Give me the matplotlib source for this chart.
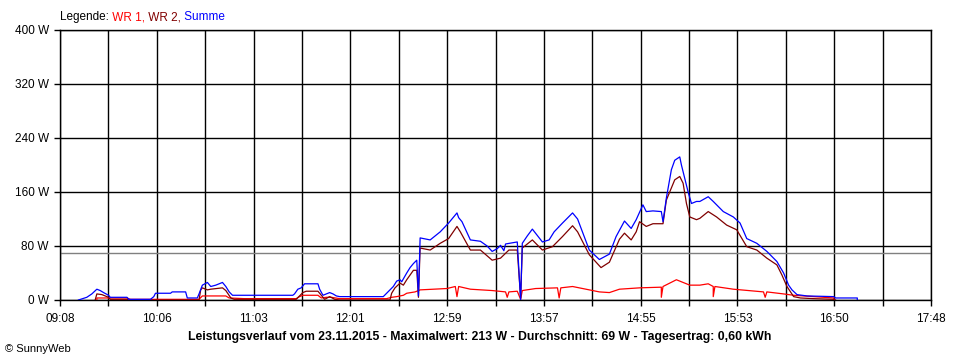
import numpy as np
import matplotlib
matplotlib.use('Agg')
import matplotlib.pyplot as plt

plt.rcParams['font.family'] = ['Liberation Sans', 'DejaVu Sans']

# Zeitachse (Minuten) und Beschriftung
x_start, x_end = '09:08', '17:48'
x_labels = ['09:08', '10:06', '11:03', '12:01', '12:59', '13:57', '14:55', '15:53', '16:50', '17:48']
y_ticks = [0, 80, 160, 240, 320, 400]
durchschnitt = 69

# WR 1 (rot)
wr1_t = ['09:30', '09:30', '09:48', '09:50', '10:31', '10:33', '10:47', '10:49', '10:58', '11:29', '11:31', '11:33',
         '11:42', '11:44', '11:47', '11:50', '11:55', '12:23', '12:26', '12:29', '12:33', '12:35', '12:40', '12:43',
         '12:59', '13:04', '13:05', '13:06', '13:13', '13:26', '13:34', '13:35', '13:36', '13:41', '13:43', '13:44',
         '13:52', '14:05', '14:06', '14:07', '14:14', '14:24', '14:30', '14:36', '14:42', '14:54', '15:07', '15:07',
         '15:08', '15:12', '15:16', '15:20', '15:24', '15:30', '15:35', '15:38', '15:38', '15:39', '15:50', '16:08',
         '16:09', '16:10', '16:20', '16:26', '16:38', '16:50', '16:50']
wr1_w = [0, 3, 3, 1, 1, 6, 6, 3, 2, 2, 5, 7,
         7, 3, 4, 4, 2, 2, 4, 5, 7, 10, 12, 15,
         17, 20, 5, 20, 16, 14, 12, 4, 12, 13, 1, 14,
         17, 18, 3, 18, 20, 15, 12, 11, 16, 18, 19, 4,
         20, 25, 30, 26, 22, 22, 24, 20, 5, 20, 16, 12,
         4, 12, 9, 7, 5, 3, 0]

# WR 2 (dunkelrot)
wr2_t = ['09:29', '09:30', '09:33', '09:35', '09:37', '09:38', '09:48', '09:49', '10:31', '10:32', '10:33', '10:36',
         '10:38', '10:45', '10:47', '10:50', '10:52', '11:29', '11:31', '11:33', '11:35', '11:42', '11:44', '11:46',
         '11:49', '11:52', '11:55', '12:25', '12:26', '12:28', '12:31', '12:33', '12:35', '12:39', '12:41', '12:42',
         '12:43', '12:49', '12:55', '13:00', '13:05', '13:07', '13:13', '13:19', '13:26', '13:31', '13:36', '13:41',
         '13:43', '13:44', '13:50', '13:56', '14:02', '14:08', '14:14', '14:17', '14:24', '14:31', '14:36', '14:42',
         '14:45', '14:49', '14:52', '14:54', '14:58', '15:02', '15:08', '15:10', '15:15', '15:18', '15:20', '15:22',
         '15:24', '15:28', '15:30', '15:35', '15:40', '15:46', '15:52', '15:58', '16:04', '16:10', '16:16', '16:19',
         '16:22', '16:26', '16:30', '16:38', '16:50', '16:51']
wr2_w = [0, 9, 8, 6, 4, 1, 1, 0, 0, 15, 18, 15,
         16, 18, 14, 3, 1, 1, 6, 11, 13, 13, 7, 1,
         5, 1, 0, 0, 10, 18, 25, 22, 30, 44, 44, 4,
         77, 74, 84, 91, 109, 101, 74, 74, 59, 62, 74, 74,
         3, 77, 89, 74, 79, 94, 110, 101, 67, 48, 56, 90,
         99, 89, 101, 116, 109, 113, 113, 148, 178, 183, 173, 143,
         123, 119, 121, 131, 123, 111, 104, 79, 74, 62, 52, 37,
         20, 5, 3, 2, 1, 0]

# Summe (blau)
sum_t = ['09:19', '09:24', '09:27', '09:30', '09:32', '09:34', '09:37', '09:38', '09:48', '09:49', '10:02', '10:04',
         '10:05', '10:14', '10:15', '10:23', '10:24', '10:30', '10:31', '10:33', '10:36', '10:38', '10:41', '10:45',
         '10:47', '10:49', '10:51', '11:27', '11:28', '11:30', '11:32', '11:34', '11:42', '11:43', '11:45', '11:49',
         '11:51', '11:53', '11:55', '12:21', '12:25', '12:27', '12:29', '12:31', '12:32', '12:35', '12:37', '12:39',
         '12:41', '12:42', '12:43', '12:49', '12:55', '13:00', '13:05', '13:06', '13:08', '13:13', '13:19', '13:23',
         '13:26', '13:29', '13:31', '13:33', '13:34', '13:41', '13:43', '13:44', '13:47', '13:50', '13:56', '14:00',
         '14:03', '14:08', '14:14', '14:17', '14:24', '14:30', '14:36', '14:40', '14:45', '14:49', '14:52', '14:56',
         '14:58', '15:02', '15:07', '15:08', '15:10', '15:13', '15:15', '15:18', '15:19', '15:23', '15:25', '15:28',
         '15:30', '15:35', '15:38', '15:44', '15:50', '15:54', '15:58', '16:04', '16:10', '16:16', '16:20', '16:23',
         '16:25', '16:28', '16:34', '16:50', '16:51', '17:04', '17:04']
sum_w = [0, 4, 9, 16, 14, 11, 7, 4, 4, 1, 1, 5,
         10, 10, 12, 12, 3, 3, 9, 22, 26, 20, 22, 26,
         20, 12, 7, 7, 9, 16, 18, 24, 24, 16, 7, 11,
         9, 6, 5, 5, 15, 20, 28, 30, 27, 40, 48, 54,
         59, 6, 92, 89, 101, 114, 129, 122, 116, 89, 87, 80,
         72, 76, 81, 73, 83, 86, 0, 84, 95, 105, 86, 89,
         101, 114, 129, 120, 74, 60, 68, 94, 117, 106, 119, 141,
         131, 132, 131, 116, 151, 193, 207, 212, 200, 160, 143, 146,
         146, 153, 146, 131, 123, 114, 91, 84, 72, 57, 40, 22,
         15, 8, 6, 5, 3, 3, 0]


def to_min(ts):
    return np.array([int(s[:2]) * 60 + int(s[3:]) for s in ts])


fig = plt.figure(figsize=(9.6, 3.6), dpi=100)
ax = fig.add_axes([60 / 960, 1 - 300 / 360, 871 / 960, 270 / 360])

t0, t1 = to_min([x_start, x_end])
ticks = np.linspace(t0, t1, 19)
ax.set_xlim(t0, t1)
ax.set_ylim(0, 400)

ax.set_xticks(ticks)
lbls = []
for i in range(19):
    lbls.append(x_labels[i // 2] if i % 2 == 0 else '')
ax.set_xticklabels(lbls)
ax.set_yticks(y_ticks)
ax.set_yticklabels(['%d W' % v for v in y_ticks])
ax.tick_params(direction='out', length=4, width=1, labelsize=8.5, color='black', pad=4)
ax.tick_params(axis='x', pad=5)
ax.grid(True, color='black', linewidth=1.0)
for s in ax.spines.values():
    s.set_linewidth(1.0)
    s.set_color('black')

ax.axhline(durchschnitt, color='#808080', linewidth=1.0, zorder=2)

ax.plot(to_min(wr1_t), wr1_w, color='#ff0000', linewidth=0.9, zorder=3)
ax.plot(to_min(wr2_t), wr2_w, color='#800000', linewidth=0.9, zorder=4)
ax.plot(to_min(sum_t), sum_w, color='#0000ff', linewidth=0.9, zorder=5)

# Legende als farbiger Text
t = fig.text(60 / 960, 1 - 20 / 360, 'Legende:', fontsize=8.5, color='black', va='baseline')
t = ax.annotate(' WR 1,', xy=(1, 0), xycoords=t, fontsize=8.5, color='#ff0000', va='bottom')
t = ax.annotate(' WR 2,', xy=(1, 0), xycoords=t, fontsize=8.5, color='#800000', va='bottom')
t = ax.annotate(' Summe', xy=(1, 0), xycoords=t, fontsize=8.5, color='#0000ff', va='bottom')

fig.text(480 / 960, 1 - 337 / 360,
         'Leistungsverlauf vom 23.11.2015 - Maximalwert: 213 W - Durchschnitt: 69 W - Tagesertrag: 0,60 kWh',
         fontsize=8.8, fontweight='bold', ha='center', va='center')
fig.text(5 / 960, 1 - 349 / 360, '\u00a9 SunnyWeb', fontsize=8, ha='left', va='center')

fig.savefig('out.png', dpi=100, facecolor='white')
